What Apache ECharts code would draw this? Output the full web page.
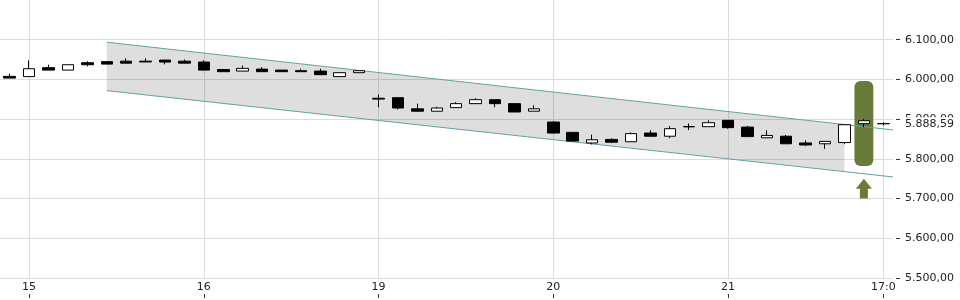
<!DOCTYPE html>
<html>
<head>
<meta charset="utf-8">
<script src="https://cdn.jsdelivr.net/npm/echarts@6/dist/echarts.min.js"></script>
<style>html,body{margin:0;padding:0;background:#fff}#c{width:960px;height:300px}</style>
</head>
<body>
<div id="c"></div>
<script>
// ---- data ----
var openVals  = [6007.7,6007,6029.6,6023.5,6042,6044.7,6046,6046,6048.7,6046,6043.7,6025,6021,6026,6023.5,6022,6021,6007,6017,5952.5,5954,5926,5920,5929,5939,5949,5939,5920,5892.7,5866.7,5840,5849,5843,5865,5857,5880.5,5881,5897,5880,5853,5857,5840,5838,5841,5888.6,5888.6];
var closeVals = [6003.4,6027,6023.5,6037,6037,6038.6,6041,6044,6043.7,6041,6023.5,6019.5,6027.8,6019.5,6019.5,6019.5,6012,6017,6022,5950.5,5928,5920,5928,5939,5949,5939,5918,5926,5865,5844.8,5848,5842,5863.5,5857,5876,5881.5,5891,5878.6,5856,5859,5838,5835,5844,5886,5896,5888.6];
var lowVals   = [6003.4,6007,6023.5,6023.5,6033,6038,6041,6044,6038,6041,6023.5,6019.5,6021,6019.5,6019.5,6019.5,6012,6007,6017,5930,5924.5,5920,5920,5929,5939,5930,5918,5920,5864,5844.8,5836.5,5840,5843,5857,5852,5872.5,5881,5876,5856,5853,5838,5832,5825,5837,5880,5884];
var highVals  = [6014.5,6048,6037,6037,6046,6045.5,6053,6053,6049,6050,6048,6025,6035,6031,6023.5,6027,6027,6017,6022,5962,5954,5939,5931,5943,5953,5949,5939,5935,5895,5866.7,5861,5852,5866.7,5872,5882.6,5889,5897,5897,5883,5872,5860,5846.6,5844,5886,5900,5892];

var xTickIdx    = [1, 10, 19, 28, 37, 45];
var xTickLabels = ['15', '16', '19', '20', '21', '17:0'];
var yTicks      = [5500, 5600, 5700, 5800, 5900, 6000, 6100];

var channelX     = [5, 45.5];
var channelUpper = [6093.7, 5872.8];
var channelLower = [5971.8, 5754.4];
var shadeX       = [5, 43];
var shadeUpper   = [6093.7, 5886];
var shadeLower   = [5971.8, 5769];

var signalBar   = [44, 5996, 5782];   // x, top, bottom
var signalArrow = [44, 5750, 5700];   // x, tip, base
var lastPrice   = 5888.59;
var lastPriceLabel = '5.888,59';

// ---- helpers ----
function fmtDE(v) {
  var s = v.toFixed(2).split('.');
  return s[0].replace(/\B(?=(\d{3})+(?!\d))/g, '.') + ',' + s[1];
}
var candleData = openVals.map(function (o, i) {
  return [i, o, closeVals[i], lowVals[i], highVals[i]];
});
var FONT = 'DejaVu Sans';
var GRID = '#dcdcdc';

var chart = echarts.init(document.getElementById('c'), null, {renderer: 'canvas'});
chart.setOption({
  animation: false,
  backgroundColor: '#fff',
  grid: {left: 0, right: 67, top: 0, bottom: 22, containLabel: false},
  xAxis: [{
    type: 'value', min: -0.5, max: 45.5,
    axisLine: {show: false, onZero: false},
    axisTick: {show: false, customValues: xTickIdx},
    axisLabel: {
      customValues: xTickIdx, margin: 4,
      color: '#222', fontFamily: FONT, fontSize: 11,
      formatter: function (v) { var k = xTickIdx.indexOf(Math.round(v)); return k >= 0 ? xTickLabels[k] : ''; }
    },
    splitLine: {show: true, lineStyle: {color: GRID, width: 1}}
  }, {
    type: 'value', min: -0.5, max: 45.5, position: 'bottom', offset: 16,
    axisLine: {show: false, onZero: false},
    axisTick: {show: true, customValues: xTickIdx, length: 4, lineStyle: {color: '#333'}},
    axisLabel: {show: false},
    splitLine: {show: false}
  }],
  yAxis: {
    type: 'value', position: 'right', min: 5500, max: 6200, offset: 3,
    axisLine: {show: false, onZero: false},
    axisTick: {show: true, length: 4, customValues: yTicks, lineStyle: {color: '#333'}},
    axisLabel: {customValues: yTicks, margin: 9, color: '#222', fontFamily: FONT, fontSize: 11,
      formatter: function (v) { return fmtDE(v); }},
    splitLine: {show: true, lineStyle: {color: GRID, width: 1}}
  },
  series: [{
    type: 'custom', name: 'shade', z: 1, silent: true,
    data: [[shadeX[0], shadeX[1], shadeUpper[0], shadeUpper[1], shadeLower[0], shadeLower[1]]],
    renderItem: function (params, api) {
      var a = api.coord([api.value(0), api.value(2)]);
      var b = api.coord([api.value(1), api.value(3)]);
      var c = api.coord([api.value(1), api.value(5)]);
      var d = api.coord([api.value(0), api.value(4)]);
      return {type: 'polygon', shape: {points: [a, b, c, d]}, style: {fill: 'rgba(0,0,0,0.13)'}};
    }
  }, {
    type: 'line', name: 'upper', z: 3, silent: true, symbol: 'none',
    data: channelX.map(function (x, i) { return [x, channelUpper[i]]; }),
    lineStyle: {color: '#5fa3a4', width: 1}
  }, {
    type: 'line', name: 'lower', z: 3, silent: true, symbol: 'none',
    data: channelX.map(function (x, i) { return [x, channelLower[i]]; }),
    lineStyle: {color: '#5fa3a4', width: 1}
  }, {
    type: 'custom', name: 'signal', z: 2, silent: true,
    data: [signalBar],
    renderItem: function (params, api) {
      var top = api.coord([api.value(0), api.value(1)]);
      var bot = api.coord([api.value(0), api.value(2)]);
      var w = api.size([1, 0])[0] - 0.5;
      return {type: 'rect', shape: {x: top[0] - w / 2, y: top[1], width: w, height: bot[1] - top[1], r: 6},
        style: {fill: '#6a7b39'}};
    }
  }, {
    type: 'custom', name: 'arrow', z: 2, silent: true,
    data: [signalArrow],
    renderItem: function (params, api) {
      var tip = api.coord([api.value(0), api.value(1)]);
      var base = api.coord([api.value(0), api.value(2)]);
      var hw = 8, sw = 4, hh = 10, x = tip[0];
      return {type: 'polygon', shape: {points: [
        [x, tip[1]], [x + hw, tip[1] + hh], [x + sw, tip[1] + hh], [x + sw, base[1]],
        [x - sw, base[1]], [x - sw, tip[1] + hh], [x - hw, tip[1] + hh]]},
        style: {fill: '#6a7b39'}};
    }
  }, {
    type: 'candlestick', name: 'price', z: 4,
    data: candleData,
    barWidth: 12,
    itemStyle: {color: '#ffffff', color0: '#000000', borderColor: '#000000', borderColor0: '#000000', borderWidth: 1},
    markLine: {
      silent: true, symbol: 'none', animation: false,
      lineStyle: {width: 0, color: 'transparent'},
      label: {show: true, position: 'end', distance: 12, formatter: lastPriceLabel,
        color: '#222', fontFamily: FONT, fontSize: 11, backgroundColor: '#fff', padding: [1, 6, 1, 0]},
      data: [{yAxis: lastPrice}]
    }
  }]
});
</script>
</body>
</html>
